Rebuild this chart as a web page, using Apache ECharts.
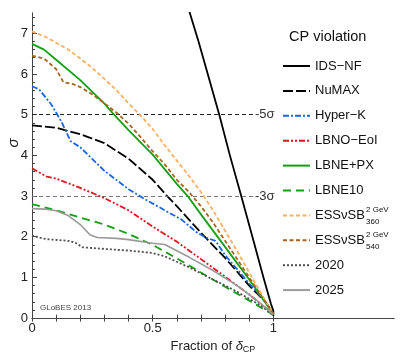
<!DOCTYPE html>
<html><head><meta charset="utf-8">
<script src="https://cdn.jsdelivr.net/npm/echarts@6/dist/echarts.min.js"></script>
<style>html,body{margin:0;padding:0;background:#fff}#c{width:407px;height:359px}</style>
</head><body><div id="c"></div>
<script>
const FONT = '"Liberation Sans", Arial, Helvetica, sans-serif';

// axis ticks / labels
const xLabelValues = [0, 0.5, 1];
const xTickValues = [0, 0.1, 0.2, 0.3, 0.4, 0.5, 0.6, 0.7, 0.8, 0.9, 1];
const yLabelValues = [0, 1, 2, 3, 4, 5, 6, 7];
const yMinorValues = [0.2,0.4,0.6,0.8,1.2,1.4,1.6,1.8,2.2,2.4,2.6,2.8,3.2,3.4,3.6,3.8,4.2,4.4,4.6,4.8,5.2,5.4,5.6,5.8,6.2,6.4,6.6,6.8,7.2,7.4];
const sigmaLevels = [5, 3];
const sigmaLabels = ['-5σ', '-3σ'];

// series names
const names = ['IDS−NF','NuMAX','Hyper−K','LBNO−EoI','LBNE+PX','LBNE10','ESSνSB 360','ESSνSB 540','2020','2025'];

// series values (fraction of deltaCP, sigma)
const idsX = [0.627, 0.654, 0.69, 0.725, 0.776, 0.82, 0.867, 0.92, 0.96, 0.99, 1.0, 1.0];
const idsY = [8.0, 7.5, 6.8, 6.07, 5.0, 4.0, 3.0, 1.85, 0.98, 0.35, 0.18, 0.05];

const numaxX = [0, 0.1, 0.2, 0.3, 0.4, 0.5, 0.56, 0.6, 0.7, 0.8, 0.9, 0.97, 1.0];
const numaxY = [4.74, 4.68, 4.52, 4.3, 3.92, 3.4, 3.0, 2.75, 2.1, 1.48, 0.8, 0.38, 0.1];

const hkX = [0, 0.03, 0.08, 0.12, 0.16, 0.2, 0.3, 0.4, 0.46, 0.55, 0.62, 0.68, 0.72, 0.76, 0.8, 0.9, 0.97, 1.0];
const hkY = [5.7, 5.62, 5.25, 4.85, 4.35, 4.2, 3.62, 3.17, 2.95, 2.65, 2.42, 2.12, 1.98, 1.9, 1.55, 0.85, 0.38, 0.1];

const lbnoX = [0, 0.03, 0.06, 0.1, 0.2, 0.3, 0.4, 0.5, 0.6, 0.7, 0.8, 0.9, 1.0];
const lbnoY = [3.68, 3.58, 3.48, 3.43, 3.2, 2.95, 2.65, 2.25, 1.88, 1.45, 1.02, 0.58, 0.1];

const pxX = [0, 0.05, 0.1, 0.2, 0.3, 0.34, 0.4, 0.5, 0.6, 0.645, 0.7, 0.8, 0.9, 1.0];
const pxY = [6.74, 6.6, 6.35, 5.85, 5.27, 5.0, 4.62, 4.02, 3.3, 3.0, 2.55, 1.75, 0.95, 0.1];

const lb10X = [0, 0.1, 0.2, 0.3, 0.4, 0.5, 0.6, 0.7, 0.8, 0.9, 1.0];
const lb10Y = [2.8, 2.65, 2.47, 2.3, 2.07, 1.8, 1.47, 1.12, 0.77, 0.43, 0.08];

const ess360X = [0, 0.05, 0.1, 0.15, 0.2, 0.25, 0.3, 0.35, 0.4, 0.45, 0.5, 0.55, 0.6, 0.65, 0.7, 0.75, 0.8, 0.85, 0.9, 0.95, 1.0];
const ess360Y = [7.05, 6.93, 6.77, 6.6, 6.38, 6.15, 5.88, 5.6, 5.28, 4.98, 4.65, 4.25, 3.87, 3.5, 3.1, 2.65, 2.15, 1.65, 1.12, 0.6, 0.1];

const ess540X = [0, 0.05, 0.1, 0.13, 0.17, 0.2, 0.25, 0.3, 0.35, 0.4, 0.45, 0.5, 0.55, 0.6, 0.65, 0.7, 0.75, 0.8, 0.85, 0.9, 0.95, 1.0];
const ess540Y = [6.45, 6.38, 6.12, 5.8, 5.75, 5.68, 5.5, 5.28, 5.05, 4.78, 4.45, 4.1, 3.78, 3.4, 3.1, 2.75, 2.35, 1.9, 1.45, 1.0, 0.55, 0.1];

const y2020X = [0, 0.03, 0.06, 0.15, 0.18, 0.21, 0.3, 0.4, 0.5, 0.55, 0.65, 0.75, 0.85, 0.95, 1.0];
const y2020Y = [2.03, 1.98, 1.94, 1.9, 1.85, 1.74, 1.7, 1.66, 1.6, 1.52, 1.25, 0.95, 0.65, 0.3, 0.06];

const y2025X = [0, 0.05, 0.1, 0.15, 0.2, 0.24, 0.27, 0.35, 0.4, 0.5, 0.55, 0.65, 0.75, 0.85, 0.95, 1.0];
const y2025Y = [2.69, 2.68, 2.64, 2.52, 2.3, 2.05, 1.98, 1.96, 1.93, 1.84, 1.81, 1.5, 1.17, 0.8, 0.35, 0.08];

const allX = [idsX, numaxX, hkX, lbnoX, pxX, lb10X, ess360X, ess540X, y2020X, y2025X];
const allY = [idsY, numaxY, hkY, lbnoY, pxY, lb10Y, ess360Y, ess540Y, y2020Y, y2025Y];

const styles = [
  {color:'#000000', type:'solid', width:1.8},
  {color:'#000000', type:[10,3], width:1.8},
  {color:'#1A66E0', type:[6,2,2,2], width:1.8},
  {color:'#E0141E', type:[6,2,2,2,2,2], width:1.8},
  {color:'#12A012', type:'solid', width:1.8},
  {color:'#12A012', type:[8,5], width:1.8},
  {color:'#F5B060', type:[4,2.5], width:1.8},
  {color:'#A8651E', type:[4,2.5], width:1.8},
  {color:'#505050', type:[2,2], width:1.8},
  {color:'#9A9A9A', type:'solid', width:1.6}
];

const zip = (xs, ys) => xs.map((x, i) => [x, ys[i]]);

const series = names.map((n, i) => ({
  name: n, type: 'line', data: zip(allX[i], allY[i]),
  xAxisIndex: 0, yAxisIndex: 0,
  symbol: 'none', showSymbol: false, clip: true, smooth: false,
  color: styles[i].color,
  lineStyle: {color: styles[i].color, type: styles[i].type, width: styles[i].width, cap: 'butt', join: 'round'},
  z: 3 + i,
  emphasis: {disabled: true}
}));

series.push({
  type: 'line', data: [], xAxisIndex: 0, yAxisIndex: 0, silent: true,
  markLine: {
    silent: true, symbol: 'none', animation: false,
    data: sigmaLevels.map((s, i) => [
      {coord: [0, s], lineStyle: {color: i === 0 ? '#222' : '#777', type: [4,3], width: 1},
       label: {show: true, position: 'end', distance: 1, formatter: sigmaLabels[i], color: '#333', fontSize: 13, fontFamily: FONT}},
      {coord: [0.92, s]}
    ])
  }
});

const chart = echarts.init(document.getElementById('c'), null, {renderer: 'canvas'});
chart.setOption({
  animation: false,
  backgroundColor: '#fff',
  title: {text: 'CP violation', left: 284, top: 24, textStyle: {fontSize: 14.5, fontWeight: 'normal', color: '#111', fontFamily: FONT}},
  grid: {left: 32, right: 13, top: 13, bottom: 37},
  legend: {
    orient: 'vertical', left: 277, top: 54, itemWidth: 27, itemHeight: 14, itemGap: 10.9,
    data: names,
    itemStyle: {opacity: 0},
    formatter: n => n.startsWith('ESSνSB') ? 'ESSνSB' : n,
    textStyle: {fontSize: 13, color: '#111', fontFamily: FONT, lineHeight: 14},
    selectedMode: false
  },
  xAxis: [
    {type: 'value', position: 'bottom', min: 0, max: 1.5,
     name: 'Fraction of {i|δ}{s|CP}', nameLocation: 'middle', nameGap: 16,
     nameTextStyle: {fontSize: 13, color: '#222', fontFamily: FONT,
       rich: {i: {fontStyle: 'italic', fontSize: 13, fontFamily: FONT, color:'#222'}, s: {fontSize: 9, fontFamily: FONT, color:'#222', padding: [6,0,0,0]}}},
     axisLine: {show: true, lineStyle: {color: '#444', width: 1}},
     axisTick: {show: true, inside: true, length: 3.5, customValues: xTickValues, lineStyle: {color: '#444'}},
     axisLabel: {show: true, customValues: xLabelValues, margin: 4, fontSize: 13, color: '#222', fontFamily: FONT,
       formatter: v => String(v)},
     splitLine: {show: false}},
    {type: 'value', position: 'top', min: 0, max: 1.5,
     axisLine: {show: true, lineStyle: {color: '#444', width: 1}},
     axisTick: {show: true, inside: true, length: 3.5, customValues: xTickValues, lineStyle: {color: '#444'}},
     axisLabel: {show: false}, splitLine: {show: false}}
  ],
  yAxis: [
    {type: 'value', position: 'left', min: 0, max: 7.5,
     axisLine: {show: true, lineStyle: {color: '#444', width: 1}},
     axisTick: {show: true, inside: true, length: 5, customValues: yLabelValues, lineStyle: {color: '#444'}},
     axisLabel: {show: true, customValues: yLabelValues, margin: 4, fontSize: 13, color: '#222', fontFamily: FONT},
     splitLine: {show: false}},
    {type: 'value', position: 'right', min: 0, max: 7.5,
     axisLine: {show: true, lineStyle: {color: '#444', width: 1}},
     axisTick: {show: false}, axisLabel: {show: false}, splitLine: {show: false}},
    {type: 'value', position: 'left', offset: 0, min: 0, max: 7.5,
     axisLine: {show: false},
     axisTick: {show: true, inside: true, length: 3, customValues: yMinorValues, lineStyle: {color: '#444'}},
     axisLabel: {show: false}, splitLine: {show: false}}
  ],
  graphic: [
    {type: 'text', x: 14, y: 143, rotation: Math.PI / 2,
     style: {text: 'σ', fontSize: 15, fontStyle: 'italic', fontFamily: FONT, fill: '#222', align: 'center', verticalAlign: 'middle'}},
    {type: 'text', x: 40, y: 308,
     style: {text: 'GLoBES 2013', fontSize: 8, fontFamily: FONT, fill: '#444', align: 'left', verticalAlign: 'middle'}},
    {type: 'text', x: 366, y: 210, style: {text: '2 GeV', fontSize: 8, fontFamily: FONT, fill: '#111', align: 'left', verticalAlign: 'middle'}},
    {type: 'text', x: 366, y: 222, style: {text: '360', fontSize: 8, fontFamily: FONT, fill: '#111', align: 'left', verticalAlign: 'middle'}},
    {type: 'text', x: 366, y: 235, style: {text: '2 GeV', fontSize: 8, fontFamily: FONT, fill: '#111', align: 'left', verticalAlign: 'middle'}},
    {type: 'text', x: 366, y: 247, style: {text: '540', fontSize: 8, fontFamily: FONT, fill: '#111', align: 'left', verticalAlign: 'middle'}}
  ],
  series: series
});
</script>
</body></html>
